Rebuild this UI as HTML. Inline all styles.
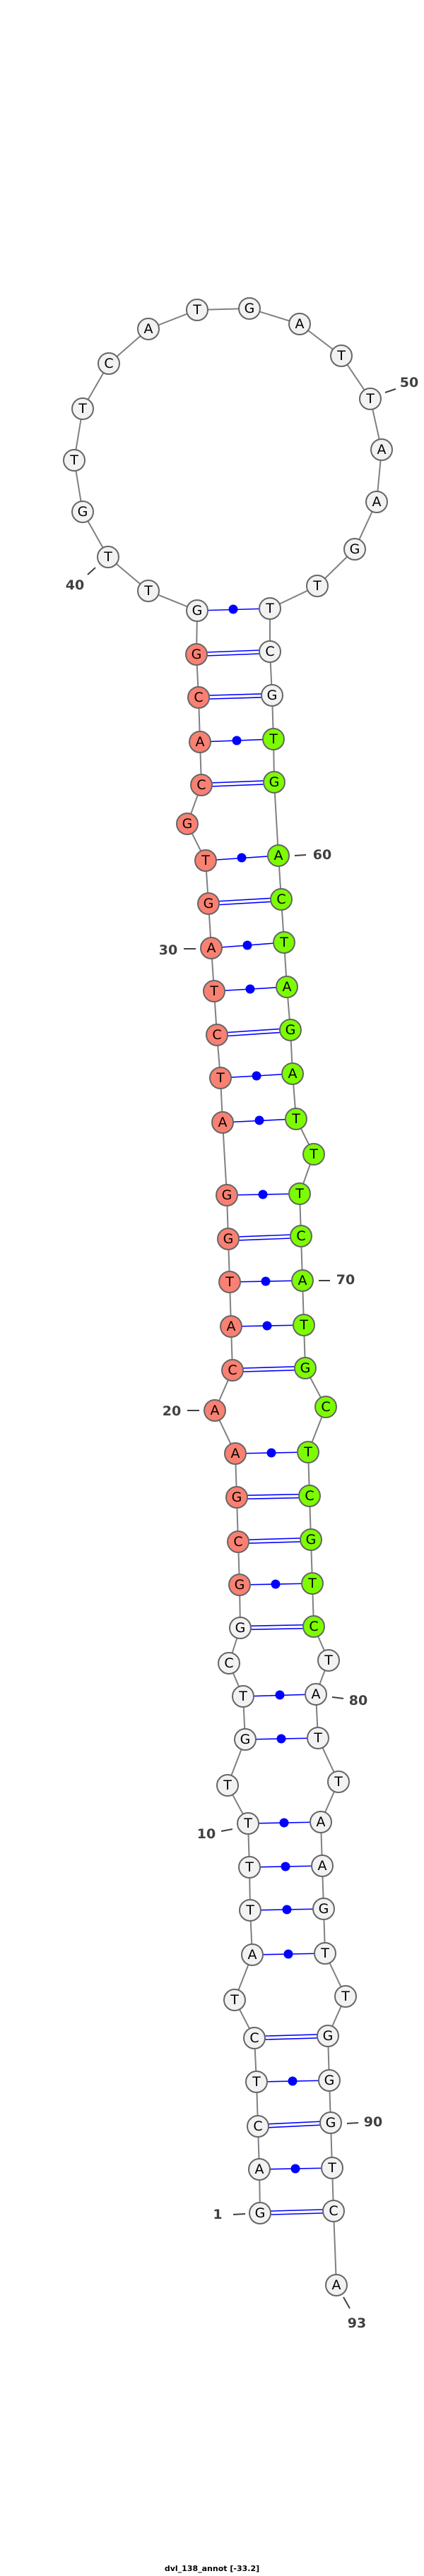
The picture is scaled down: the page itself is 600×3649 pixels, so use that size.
<!DOCTYPE html>
<html><head><meta charset="utf-8"><style>
html,body{margin:0;padding:0;background:#fff;}
svg{display:block;}
.n{stroke:#666;stroke-width:2;}
.w{fill:#f2f2f2}.s{fill:#fa8072}.g{fill:#7cfc00}
text.l{font-family:"DejaVu Sans","Liberation Sans",sans-serif;font-size:19px;fill:#000;text-anchor:middle;dominant-baseline:central;}
text.num{font-family:"DejaVu Sans","Liberation Sans",sans-serif;font-size:19px;font-weight:bold;fill:#404040;dominant-baseline:central;text-anchor:middle}
.p{stroke:#00f;stroke-width:1.6;fill:none}
.t{stroke:#404040;stroke-width:2}
</style></head><body>
<svg width="600" height="3649" viewBox="0 0 600 3649" xmlns="http://www.w3.org/2000/svg">
<polyline fill="none" stroke="#808080" stroke-width="2" points="368,3135 367,3073 365,3012 363,2949 360,2887 332,2833 357,2769 354,2706 353,2645 351,2583 322,2529 347,2464 344,2403 324,2356 340,2306 339,2245 337,2184 335,2121 333,2059 304,1998 329,1941 327,1879 325,1816 323,1755 321,1693 315,1590 312,1527 307,1466 303,1404 299,1343 295,1280 291,1219 265,1167 285,1112 283,1051 281,988 278,927 279,865 210,837 153,789 117,725 105,652 117,579 154,515 210,466 279,439 353,437 424,459 483,504 524,565 540,637 533,711 502,778 449,830 382,862 382,923 385,985 387,1047 388,1108 394,1212 398,1274 402,1335 406,1398 411,1459 414,1521 419,1585 444,1635 424,1691 426,1751 428,1814 430,1877 432,1938 461,1993 436,2057 438,2119 440,2181 442,2243 444,2304 465,2352 447,2400 450,2462 479,2524 454,2581 456,2643 458,2704 460,2767 489,2828 464,2884 466,2947 468,3007 470,3071 472,3132 476,3237"/>
<g class="p">
<path d="M368,3132.5L472,3129.5M368,3137.5L472,3134.5"/>
<path d="M365,3009.5L468,3004.5M365,3014.5L468,3009.5"/>
<path d="M360,2884.5L464,2881.5M360,2889.5L464,2886.5"/>
<path d="M340,2303.5L444,2301.5M340,2308.5L444,2306.5"/>
<path d="M337,2181.5L440,2178.5M337,2186.5L440,2183.5"/>
<path d="M335,2118.5L438,2116.5M335,2123.5L438,2121.5"/>
<path d="M329,1938.5L432,1935.5M329,1943.5L432,1940.5"/>
<path d="M323,1752.5L426,1748.5M323,1757.5L426,1753.5"/>
<path d="M307,1463.5L411,1456.5M307,1468.5L411,1461.5"/>
<path d="M295,1277.5L398,1271.5M295,1282.5L398,1276.5"/>
<path d="M285,1109.5L388,1105.5M285,1114.5L388,1110.5"/>
<path d="M281,985.5L385,982.5M281,990.5L385,987.5"/>
<path d="M278,924.5L382,920.5M278,929.5L382,925.5"/>
<path d="M367,3073L470,3071M363,2949L466,2947M357,2769L460,2767M354,2706L458,2704M353,2645L456,2643M351,2583L454,2581M347,2464L450,2462M344,2403L447,2400M339,2245L442,2243M333,2059L436,2057M327,1879L430,1877M325,1816L428,1814M321,1693L424,1691M315,1590L419,1585M312,1527L414,1521M303,1404L406,1398M299,1343L402,1335M291,1219L394,1212M283,1051L387,1047M279,865L382,862"/>
</g>
<g fill="#00f">
<circle cx="418" cy="3072" r="6.5"/><circle cx="414" cy="2948" r="6.5"/><circle cx="408" cy="2768" r="6.5"/><circle cx="406" cy="2705" r="6.5"/><circle cx="404" cy="2644" r="6.5"/><circle cx="402" cy="2582" r="6.5"/><circle cx="398" cy="2463" r="6.5"/><circle cx="396" cy="2401" r="6.5"/><circle cx="390" cy="2244" r="6.5"/><circle cx="384" cy="2058" r="6.5"/><circle cx="378" cy="1878" r="6.5"/><circle cx="376" cy="1815" r="6.5"/><circle cx="372" cy="1692" r="6.5"/><circle cx="367" cy="1587" r="6.5"/><circle cx="363" cy="1524" r="6.5"/><circle cx="354" cy="1401" r="6.5"/><circle cx="350" cy="1339" r="6.5"/><circle cx="342" cy="1215" r="6.5"/><circle cx="335" cy="1049" r="6.5"/><circle cx="330" cy="863" r="6.5"/>
</g>
<g class="n">
<circle class="w" cx="368" cy="3135" r="15"/><circle class="w" cx="367" cy="3073" r="15"/><circle class="w" cx="365" cy="3012" r="15"/><circle class="w" cx="363" cy="2949" r="15"/><circle class="w" cx="360" cy="2887" r="15"/><circle class="w" cx="332" cy="2833" r="15"/><circle class="w" cx="357" cy="2769" r="15"/><circle class="w" cx="354" cy="2706" r="15"/><circle class="w" cx="353" cy="2645" r="15"/><circle class="w" cx="351" cy="2583" r="15"/><circle class="w" cx="322" cy="2529" r="15"/><circle class="w" cx="347" cy="2464" r="15"/><circle class="w" cx="344" cy="2403" r="15"/><circle class="w" cx="324" cy="2356" r="15"/><circle class="w" cx="340" cy="2306" r="15"/>
<circle class="s" cx="339" cy="2245" r="15"/><circle class="s" cx="337" cy="2184" r="15"/><circle class="s" cx="335" cy="2121" r="15"/><circle class="s" cx="333" cy="2059" r="15"/><circle class="s" cx="304" cy="1998" r="15"/><circle class="s" cx="329" cy="1941" r="15"/><circle class="s" cx="327" cy="1879" r="15"/><circle class="s" cx="325" cy="1816" r="15"/><circle class="s" cx="323" cy="1755" r="15"/><circle class="s" cx="321" cy="1693" r="15"/><circle class="s" cx="315" cy="1590" r="15"/><circle class="s" cx="312" cy="1527" r="15"/><circle class="s" cx="307" cy="1466" r="15"/><circle class="s" cx="303" cy="1404" r="15"/><circle class="s" cx="299" cy="1343" r="15"/><circle class="s" cx="295" cy="1280" r="15"/><circle class="s" cx="291" cy="1219" r="15"/><circle class="s" cx="265" cy="1167" r="15"/><circle class="s" cx="285" cy="1112" r="15"/><circle class="s" cx="283" cy="1051" r="15"/><circle class="s" cx="281" cy="988" r="15"/><circle class="s" cx="278" cy="927" r="15"/>
<circle class="w" cx="279" cy="865" r="15"/><circle class="w" cx="210" cy="837" r="15"/><circle class="w" cx="153" cy="789" r="15"/><circle class="w" cx="117" cy="725" r="15"/><circle class="w" cx="105" cy="652" r="15"/><circle class="w" cx="117" cy="579" r="15"/><circle class="w" cx="154" cy="515" r="15"/><circle class="w" cx="210" cy="466" r="15"/><circle class="w" cx="279" cy="439" r="15"/><circle class="w" cx="353" cy="437" r="15"/><circle class="w" cx="424" cy="459" r="15"/><circle class="w" cx="483" cy="504" r="15"/><circle class="w" cx="524" cy="565" r="15"/><circle class="w" cx="540" cy="637" r="15"/><circle class="w" cx="533" cy="711" r="15"/><circle class="w" cx="502" cy="778" r="15"/><circle class="w" cx="449" cy="830" r="15"/><circle class="w" cx="382" cy="862" r="15"/><circle class="w" cx="382" cy="923" r="15"/><circle class="w" cx="385" cy="985" r="15"/>
<circle class="g" cx="387" cy="1047" r="15"/><circle class="g" cx="388" cy="1108" r="15"/><circle class="g" cx="394" cy="1212" r="15"/><circle class="g" cx="398" cy="1274" r="15"/><circle class="g" cx="402" cy="1335" r="15"/><circle class="g" cx="406" cy="1398" r="15"/><circle class="g" cx="411" cy="1459" r="15"/><circle class="g" cx="414" cy="1521" r="15"/><circle class="g" cx="419" cy="1585" r="15"/><circle class="g" cx="444" cy="1635" r="15"/><circle class="g" cx="424" cy="1691" r="15"/><circle class="g" cx="426" cy="1751" r="15"/><circle class="g" cx="428" cy="1814" r="15"/><circle class="g" cx="430" cy="1877" r="15"/><circle class="g" cx="432" cy="1938" r="15"/><circle class="g" cx="461" cy="1993" r="15"/><circle class="g" cx="436" cy="2057" r="15"/><circle class="g" cx="438" cy="2119" r="15"/><circle class="g" cx="440" cy="2181" r="15"/><circle class="g" cx="442" cy="2243" r="15"/><circle class="g" cx="444" cy="2304" r="15"/>
<circle class="w" cx="465" cy="2352" r="15"/><circle class="w" cx="447" cy="2400" r="15"/><circle class="w" cx="450" cy="2462" r="15"/><circle class="w" cx="479" cy="2524" r="15"/><circle class="w" cx="454" cy="2581" r="15"/><circle class="w" cx="456" cy="2643" r="15"/><circle class="w" cx="458" cy="2704" r="15"/><circle class="w" cx="460" cy="2767" r="15"/><circle class="w" cx="489" cy="2828" r="15"/><circle class="w" cx="464" cy="2884" r="15"/><circle class="w" cx="466" cy="2947" r="15"/><circle class="w" cx="468" cy="3007" r="15"/><circle class="w" cx="470" cy="3071" r="15"/><circle class="w" cx="472" cy="3132" r="15"/><circle class="w" cx="476" cy="3237" r="15"/>
</g>
<g>
<text class="l" x="368" y="3135">G</text><text class="l" x="367" y="3073">A</text><text class="l" x="365" y="3012">C</text><text class="l" x="363" y="2949">T</text><text class="l" x="360" y="2887">C</text><text class="l" x="332" y="2833">T</text><text class="l" x="357" y="2769">A</text><text class="l" x="354" y="2706">T</text><text class="l" x="353" y="2645">T</text><text class="l" x="351" y="2583">T</text><text class="l" x="322" y="2529">T</text><text class="l" x="347" y="2464">G</text><text class="l" x="344" y="2403">T</text><text class="l" x="324" y="2356">C</text><text class="l" x="340" y="2306">G</text>
<text class="l" x="339" y="2245">G</text><text class="l" x="337" y="2184">C</text><text class="l" x="335" y="2121">G</text><text class="l" x="333" y="2059">A</text><text class="l" x="304" y="1998">A</text><text class="l" x="329" y="1941">C</text><text class="l" x="327" y="1879">A</text><text class="l" x="325" y="1816">T</text><text class="l" x="323" y="1755">G</text><text class="l" x="321" y="1693">G</text><text class="l" x="315" y="1590">A</text><text class="l" x="312" y="1527">T</text><text class="l" x="307" y="1466">C</text><text class="l" x="303" y="1404">T</text><text class="l" x="299" y="1343">A</text><text class="l" x="295" y="1280">G</text><text class="l" x="291" y="1219">T</text><text class="l" x="265" y="1167">G</text><text class="l" x="285" y="1112">C</text><text class="l" x="283" y="1051">A</text><text class="l" x="281" y="988">C</text><text class="l" x="278" y="927">G</text>
<text class="l" x="279" y="865">G</text><text class="l" x="210" y="837">T</text><text class="l" x="153" y="789">T</text><text class="l" x="117" y="725">G</text><text class="l" x="105" y="652">T</text><text class="l" x="117" y="579">T</text><text class="l" x="154" y="515">C</text><text class="l" x="210" y="466">A</text><text class="l" x="279" y="439">T</text><text class="l" x="353" y="437">G</text><text class="l" x="424" y="459">A</text><text class="l" x="483" y="504">T</text><text class="l" x="524" y="565">T</text><text class="l" x="540" y="637">A</text><text class="l" x="533" y="711">A</text><text class="l" x="502" y="778">G</text><text class="l" x="449" y="830">T</text><text class="l" x="382" y="862">T</text><text class="l" x="382" y="923">C</text><text class="l" x="385" y="985">G</text>
<text class="l" x="387" y="1047">T</text><text class="l" x="388" y="1108">G</text><text class="l" x="394" y="1212">A</text><text class="l" x="398" y="1274">C</text><text class="l" x="402" y="1335">T</text><text class="l" x="406" y="1398">A</text><text class="l" x="411" y="1459">G</text><text class="l" x="414" y="1521">A</text><text class="l" x="419" y="1585">T</text><text class="l" x="444" y="1635">T</text><text class="l" x="424" y="1691">T</text><text class="l" x="426" y="1751">C</text><text class="l" x="428" y="1814">A</text><text class="l" x="430" y="1877">T</text><text class="l" x="432" y="1938">G</text><text class="l" x="461" y="1993">C</text><text class="l" x="436" y="2057">T</text><text class="l" x="438" y="2119">C</text><text class="l" x="440" y="2181">G</text><text class="l" x="442" y="2243">T</text><text class="l" x="444" y="2304">C</text>
<text class="l" x="465" y="2352">T</text><text class="l" x="447" y="2400">A</text><text class="l" x="450" y="2462">T</text><text class="l" x="479" y="2524">T</text><text class="l" x="454" y="2581">A</text><text class="l" x="456" y="2643">A</text><text class="l" x="458" y="2704">G</text><text class="l" x="460" y="2767">T</text><text class="l" x="489" y="2828">T</text><text class="l" x="464" y="2884">G</text><text class="l" x="466" y="2947">G</text><text class="l" x="468" y="3007">G</text><text class="l" x="470" y="3071">T</text><text class="l" x="472" y="3132">C</text><text class="l" x="476" y="3237">A</text>
</g>
<g class="t">
<path d="M330,3137L347,3136M313,2594L329,2591M265,1998L282,1998M260,1344L277,1344M124,814L135,804M545,556L560,551M417,1212L433,1211M451,1814L467,1814M470,2404L486,2406M491,3008L507,3007M486,3254L495,3270"/>
</g>
<text class="num" x="308" y="3137">1</text>
<text class="num" x="292" y="2598">10</text>
<text class="num" x="243" y="1999">20</text>
<text class="num" x="238" y="1346">30</text>
<text class="num" x="106" y="829">40</text>
<text class="num" x="579" y="542">50</text>
<text class="num" x="456" y="1211">60</text>
<text class="num" x="489" y="1813">70</text>
<text class="num" x="507" y="2409">80</text>
<text class="num" x="528" y="3006">90</text>
<text class="num" x="505" y="3291">93</text>
<text x="300" y="3642" style="font-family:'DejaVu Sans','Liberation Sans',sans-serif;font-size:11px;font-weight:bold;text-anchor:middle;fill:#000">dvl_138_annot [-33.2]</text>
</svg>
</body></html>
